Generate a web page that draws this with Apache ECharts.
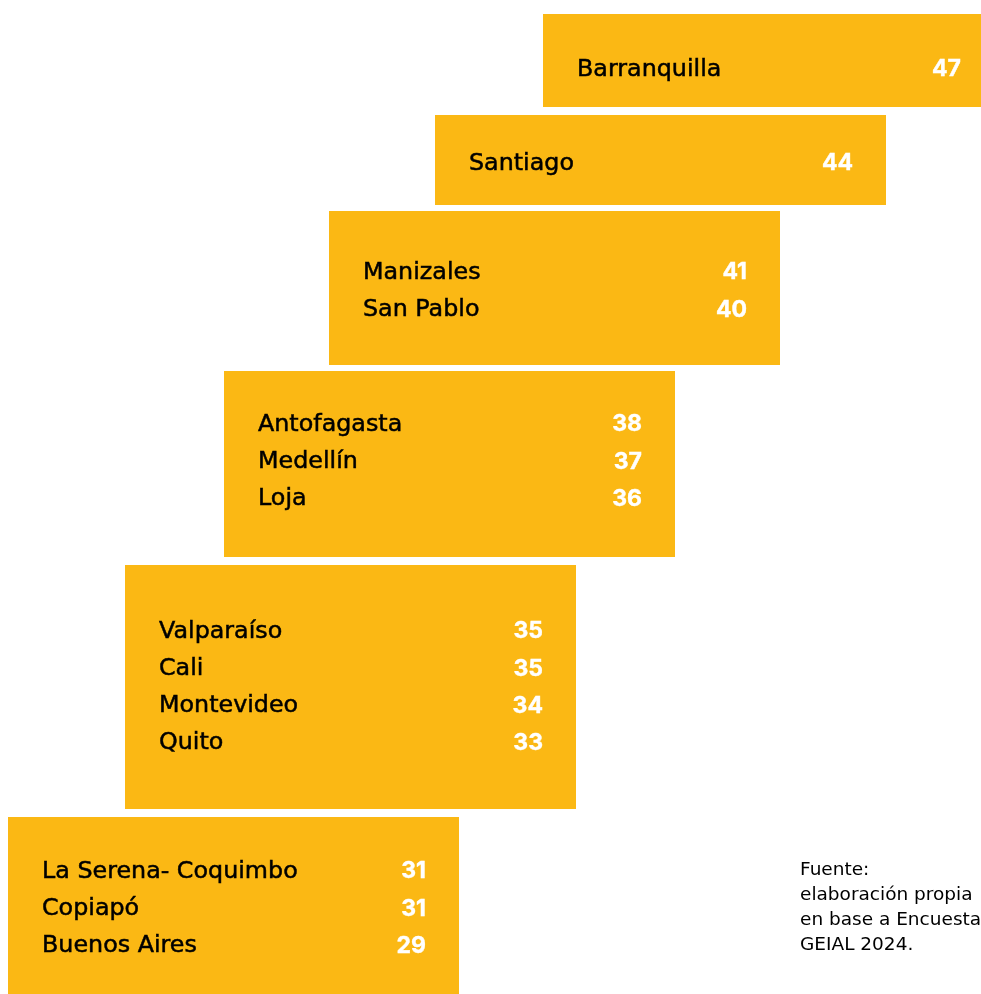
<!DOCTYPE html>
<html>
<head>
<meta charset="utf-8">
<script src="https://cdn.jsdelivr.net/npm/echarts@6/dist/echarts.min.js"></script>
<style>html,body{margin:0;padding:0;background:#fff}#c{width:981px;height:994px}</style>
</head>
<body>
<div id="c"></div>
<script>
// ---- data ----
const cities = ['Barranquilla','Santiago','Manizales','San Pablo','Antofagasta','Medellín','Loja','Valparaíso','Cali','Montevideo','Quito','La Serena- Coquimbo','Copiapó','Buenos Aires'];
const values = [47,44,41,40,38,37,36,35,35,34,33,31,31,29];
const tiers  = [0,1,2,2,3,3,3,4,4,4,4,5,5,5];
const sourceText = 'Fuente:\nelaboración propia\nen base a Encuesta\nGEIAL 2024.';

// ---- layout (in axis units = page pixels) ----
const tierLeft   = [543,435,329,224,125,8];
const tierTop    = [14,115,211,371,565,817];
const tierBottom = [107,205,365,557,809,1000];
const tierFirstRow = [69.5,163.5,272.5,424.5,631.5,871.5];
const rowStep = 37.2;
const boxWidth = 451;
const nameInset = 34;
const valueInset = 33;
const YELLOW = '#FBB814';

const boxData = tierLeft.map((l,i)=>[l, tierTop[i], l+boxWidth, tierBottom[i]]);
const rowIndex = tiers.map((t,i)=> tiers.slice(0,i).filter(x=>x===t).length);
const rowData = cities.map((c,i)=>[tierLeft[tiers[i]], tierFirstRow[tiers[i]] + rowIndex[i]*rowStep, values[i], c]);

const chart = echarts.init(document.getElementById('c'), null, {renderer:'canvas'});
chart.setOption({
  animation:false,
  grid:{left:0,right:0,top:0,bottom:0},
  xAxis:{type:'value',min:0,max:981,show:false},
  yAxis:{type:'value',min:0,max:994,inverse:true,show:false},
  series:[
    {
      type:'custom',
      data:boxData,
      renderItem:(params,api)=>{
        const p0 = api.coord([api.value(0), api.value(1)]);
        const p1 = api.coord([api.value(2), api.value(3)]);
        return {type:'rect',shape:{x:p0[0],y:p0[1],width:p1[0]-p0[0],height:p1[1]-p0[1]},style:{fill:YELLOW}};
      }
    },
    {
      type:'custom',
      data:rowData,
      renderItem:(params,api)=>{
        const left = api.value(0), y = api.value(1);
        const pn = api.coord([left+nameInset, y]);
        const pv = api.coord([left+boxWidth-valueInset, y]);
        const d = rowData[params.dataIndex];
        return {type:'group',children:[
          {type:'text',x:pn[0],y:pn[1],style:{text:d[3],fill:'#000',stroke:'#000',lineWidth:0.5,font:'23.8px "DejaVu Sans"',textAlign:'left',textVerticalAlign:'middle'}},
          {type:'text',x:pv[0],y:pv[1],style:{text:String(d[2]),fill:'#fff',stroke:'#fff',lineWidth:0.4,font:'bold 23px Inter',textAlign:'right',textVerticalAlign:'middle'}}
        ]};
      }
    }
  ],
  graphic:[{type:'text',left:800,top:858,style:{text:sourceText,fill:'#000',font:'18.5px "DejaVu Sans"',lineHeight:25}}]
});
</script>
</body>
</html>
